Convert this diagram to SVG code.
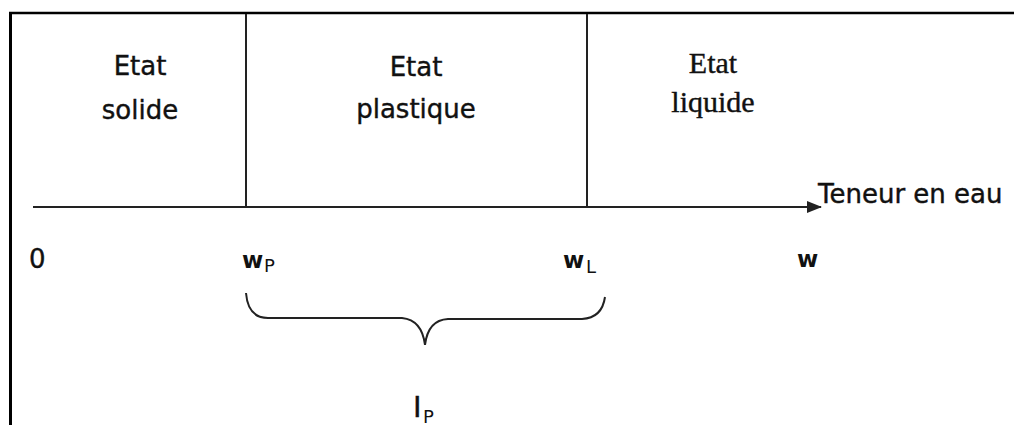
<svg xmlns="http://www.w3.org/2000/svg" width="1014" height="425" viewBox="0 0 1014 425">
<style>
.sans{font-family:"DejaVu Sans","Liberation Sans",sans-serif;fill:#111;stroke:#111;stroke-width:0.4;}
.serif{font-family:"Liberation Serif","Times New Roman",serif;fill:#111;stroke:#111;stroke-width:0.4;}
.lab{font-size:26px;}
.w{font-family:"DejaVu Sans","Liberation Sans",sans-serif;font-weight:bold;font-size:23px;fill:#111;}
.sub{font-family:"DejaVu Sans","Liberation Sans",sans-serif;font-size:18px;fill:#111;}
.line{stroke:#222;stroke-width:2;fill:none;}
.frame{stroke:#000;fill:none;}
</style>
<defs>
<marker id="arr" markerWidth="16" markerHeight="14" refX="14" refY="7" orient="auto" markerUnits="userSpaceOnUse">
<path d="M0,1 L15,7 L0,13 Z" fill="#222"/>
</marker>
</defs>
<rect width="1014" height="425" fill="#fff"/>
<g id="frame">
<line class="frame" x1="9" y1="13" x2="1014" y2="13" stroke-width="2.5"/>
<line class="frame" x1="10.5" y1="12" x2="10.5" y2="425" stroke-width="3"/>
</g>
<g id="connectors">
<line class="line" x1="33" y1="207" x2="821" y2="207" marker-end="url(#arr)"/>
<line class="line" x1="246" y1="14" x2="246" y2="207"/>
<line class="line" x1="587" y1="14" x2="587" y2="207"/>
<path class="line" stroke="#444" d="M246,293 Q248,318 268,318 L402,318 Q422,320 425,345 Q428,320 448,319 L582,319 Q602,318 605,297"/>
</g>
<g id="etat-solide">
<text class="sans lab" x="140" y="75" text-anchor="middle">Etat</text>
<text class="sans lab" x="140" y="119" text-anchor="middle">solide</text>
</g>
<g id="etat-plastique">
<text class="sans lab" x="416" y="76" text-anchor="middle">Etat</text>
<text class="sans lab" x="416" y="118" text-anchor="middle">plastique</text>
</g>
<g id="etat-liquide">
<text class="serif" font-size="30" x="713" y="73" text-anchor="middle">Etat</text>
<text class="serif" font-size="30" x="713" y="112" text-anchor="middle">liquide</text>
</g>
<g id="teneur">
<text class="sans lab" x="818" y="203">Teneur en eau</text>
</g>
<g id="zero">
<text class="sans lab" x="29" y="268">0</text>
</g>
<g id="wp">
<text class="w" x="242" y="268">w</text>
<text class="sub" x="264" y="272">P</text>
</g>
<g id="wl">
<text class="w" x="563" y="268">w</text>
<text class="sub" x="586" y="273">L</text>
</g>
<g id="w">
<text class="w" x="797" y="267">w</text>
</g>
<g id="ip">
<text class="sans" font-size="29" x="413" y="417">I</text>
<text class="sub" x="423" y="423">P</text>
</g>
</svg>
